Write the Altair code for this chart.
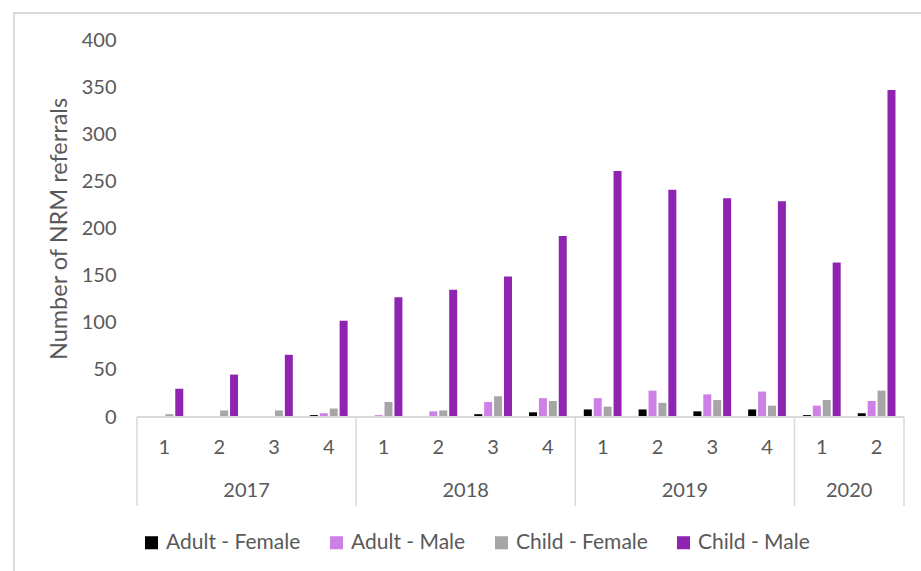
import altair as alt
import pandas as pd

# Quarterly NRM referrals by age group and sex
years = [2017, 2017, 2017, 2017, 2018, 2018, 2018, 2018,
         2019, 2019, 2019, 2019, 2020, 2020]
quarters = [1, 2, 3, 4, 1, 2, 3, 4, 1, 2, 3, 4, 1, 2]

series_names = ["Adult - Female", "Adult - Male", "Child - Female", "Child - Male"]
series_colors = ["#000000", "#CD80E6", "#A6A6A6", "#8E24B1"]

adult_female = [0, 0, 0, 2, 0, 0, 3, 5, 8, 8, 6, 8, 2, 4]
adult_male = [0, 0, 1, 4, 2, 6, 16, 20, 20, 28, 24, 27, 12, 17]
child_female = [3, 7, 7, 9, 16, 7, 22, 17, 11, 15, 18, 12, 18, 28]
child_male = [30, 45, 66, 102, 127, 135, 149, 192, 261, 241, 232, 229, 164, 347]

y_ticks = [0, 50, 100, 150, 200, 250, 300, 350, 400]

FONT = "Lato"
TEXT = "#595959"
LINE = "#D9D9D9"
FS = 20
W, H = 767, 377

series_values = [adult_female, adult_male, child_female, child_male]
rows = []
for i, (yr, q) in enumerate(zip(years, quarters)):
    for k, (name, vals) in enumerate(zip(series_names, series_values)):
        rows.append({"slot": i, "year": yr, "quarter": q,
                     "series": name, "k": k, "value": vals[i]})
bars_df = pd.DataFrame(rows)

slots_df = pd.DataFrame({"slot": list(range(len(years))),
                         "year": years, "quarter": quarters})

# boundaries between year groups on the category axis
bounds = [0]
for i in range(1, len(years)):
    if years[i] != years[i - 1]:
        bounds.append(i)
bounds.append(len(years))
bounds_df = pd.DataFrame({"b": bounds})

xscale = alt.Scale(domain=[0, len(years)], nice=False, zero=False)
yscale = alt.Scale(domain=[0, 400], nice=False, padding=0)

bars = alt.Chart(bars_df).transform_calculate(
    x0="datum.slot + 0.5 + (datum.k - 1.5) * 0.181 - 0.073",
    x1="datum.slot + 0.5 + (datum.k - 1.5) * 0.181 + 0.073",
).mark_bar().encode(
    x=alt.X("x0:Q", scale=xscale, axis=None),
    x2="x1:Q",
    y=alt.Y("value:Q", scale=yscale,
            axis=alt.Axis(values=y_ticks, grid=False, domain=False, ticks=False,
                          labelPadding=21, labelFont=FONT, labelFontSize=FS,
                          labelColor=TEXT, title="Number of NRM referrals",
                          titleFont=FONT, titleFontSize=23.5, titleColor=TEXT,
                          titleFontWeight="normal", titlePadding=10)),
    y2=alt.datum(0),
    color=alt.Color("series:N",
                    scale=alt.Scale(domain=series_names, range=series_colors),
                    sort=series_names,
                    legend=alt.Legend(orient="none", legendX=4, legendY=492,
                                      direction="horizontal", title=None,
                                      symbolType="square", symbolSize=170,
                                      symbolStrokeWidth=0, labelFont=FONT,
                                      labelFontSize=21, labelColor=TEXT,
                                      labelOffset=4, columnPadding=25)),
)

baseline = alt.Chart(slots_df).mark_rule(color=LINE, strokeWidth=1.5).encode(
    x=alt.datum(0, scale=xscale), x2=alt.datum(len(years)), y=alt.datum(0)
)

separators = alt.Chart(bounds_df).mark_rule(color=LINE, strokeWidth=1.5).encode(
    x=alt.X("b:Q", scale=xscale), y=alt.value(H), y2=alt.value(H + 89)
)

quarter_labels = alt.Chart(slots_df).transform_calculate(
    xc="datum.slot + 0.5"
).mark_text(font=FONT, fontSize=FS, color=TEXT, baseline="middle").encode(
    x=alt.X("xc:Q", scale=xscale), y=alt.value(H + 31), text="quarter:N"
)

year_labels = alt.Chart(slots_df).transform_calculate(
    xc="datum.slot + 0.5"
).transform_aggregate(
    xm="mean(xc)", groupby=["year"]
).mark_text(font=FONT, fontSize=FS, color=TEXT, baseline="middle").encode(
    x=alt.X("xm:Q", scale=xscale), y=alt.value(H + 74), text="year:N"
)

frame = alt.Chart(slots_df).mark_rect(fill=None, stroke=LINE, strokeWidth=1.5).encode(
    x=alt.value(-123), x2=alt.value(W + 40), y=alt.value(-27), y2=alt.value(H + 200)
)

chart = alt.layer(
    frame, bars, baseline, separators, quarter_labels, year_labels
).properties(
    width=W, height=H,
    autosize=alt.AutoSizeParams(type="none"),
    padding={"left": 137, "top": 40, "right": 17, "bottom": 154},
    background="white",
).configure_view(stroke=None)

chart.save("out.html", embed_options={"renderer": "svg", "actions": False})
